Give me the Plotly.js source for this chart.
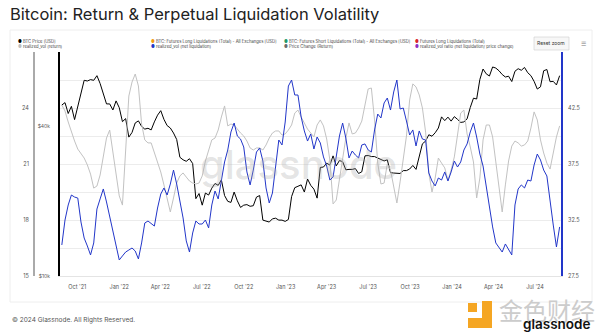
<!DOCTYPE html>
<html><head><meta charset="utf-8">
<script src="https://cdn.plot.ly/plotly-3.0.1.min.js"></script>
<style>html,body{margin:0;padding:0;background:#fff}#chart{width:600px;height:333px}</style>
</head><body><div id="chart"></div>
<script>
// Weekly observations, first one on 2021-08-28
const startDate = [2021, 7, 28];
// BTC price, USD thousands
const btcPrice = [
48.9, 50.0, 45.2, 48.3, 42.7, 48.2, 54.9, 61.5, 61.1, 61.9,
61.5, 64.2, 59.7, 54.7, 49.4, 49.4, 46.7, 50.8, 47.7, 41.9,
43.1, 36.3, 37.9, 41.4, 42.2, 40.1, 39.1, 39.4, 38.8, 41.8,
44.5, 46.4, 42.8, 40.4, 39.5, 37.7, 35.5, 30.1, 29.4, 29.0,
29.7, 28.4, 20.5, 21.5, 19.3, 21.6, 21.2, 22.6, 23.6, 23.2,
24.4, 21.1, 20.0, 19.8, 21.8, 20.1, 18.9, 19.3, 19.4, 19.1,
19.2, 20.8, 21.1, 16.8, 16.7, 16.5, 17.0, 17.1, 16.8, 16.8,
16.6, 16.9, 20.9, 22.7, 23.0, 23.3, 21.8, 24.6, 23.2, 22.4,
20.6, 27.4, 27.5, 28.5, 28.0, 30.5, 27.8, 29.2, 28.9, 26.8,
26.9, 26.9, 27.1, 25.9, 26.3, 30.5, 30.6, 30.3, 30.3, 29.9,
29.3, 29.1, 29.4, 26.1, 26.0, 25.9, 25.9, 26.6, 26.6, 27.0,
27.9, 26.9, 29.9, 34.1, 35.0, 37.1, 36.6, 37.8, 39.5, 43.8,
42.3, 43.7, 42.1, 43.9, 42.8, 41.6, 41.8, 43.0, 47.8, 52.1,
51.7, 62.0, 68.3, 65.3, 64.0, 69.6, 68.9, 67.2, 64.9, 63.4,
63.9, 60.8, 66.9, 68.5, 67.5, 69.3, 66.0, 64.2, 60.9, 56.7,
57.9, 67.2, 68.0, 60.7, 60.9, 58.9, 64.2
];
// realized_vol (return) - left outer axis
const realizedVolReturn = [
24.16, 23.84, 23.25, 22.71, 22.23, 21.80, 21.59, 21.32, 20.95, 20.46,
19.71, 19.82, 20.41, 21.32, 22.39, 22.82, 21.70, 20.41, 19.29, 18.80,
21.75, 24.64, 25.39, 25.82, 25.18, 23.14, 22.29, 22.13, 22.13, 21.59,
21.11, 20.57, 19.88, 19.13, 18.43, 19.18, 19.98, 20.36, 20.52, 20.30,
20.09, 19.98, 19.93, 19.98, 20.36, 21.16, 21.75, 22.29, 22.39, 22.82,
23.52, 24.11, 23.04, 23.14, 23.09, 22.87, 22.66, 22.50, 22.23, 21.86,
21.75, 21.86, 21.86, 21.75, 22.02, 22.39, 22.66, 22.77, 22.77, 22.55,
22.61, 22.82, 23.09, 23.73, 23.89, 23.52, 23.20, 22.87, 22.66, 22.45,
23.09, 23.36, 23.04, 22.34, 21.21, 18.86, 19.07, 20.14, 21.38, 22.39,
23.20, 22.61, 22.66, 22.93, 23.30, 24.11, 25.02, 25.07, 23.36, 21.05,
19.93, 19.98, 21.00, 20.68, 19.71, 18.91, 20.04, 21.16, 22.50, 24.43,
25.29, 25.13, 24.70, 24.00, 22.71, 20.52, 19.50, 20.25, 21.32, 21.05,
20.79, 20.14, 20.68, 21.38, 22.55, 23.73, 23.89, 22.61, 21.91, 21.11,
19.18, 20.25, 22.29, 23.09, 23.09, 22.45, 21.11, 19.77, 18.43, 19.88,
21.16, 21.96, 22.23, 22.13, 21.96, 22.02, 22.23, 22.93, 23.79, 23.36,
22.29, 21.59, 21.05, 20.73, 21.70, 22.45, 23.04
];
// realized_vol (net liquidation) - right axis
const realizedVolNetLiq = [
30.27, 32.50, 33.84, 34.73, 34.55, 34.46, 32.32, 30.89, 30.18, 29.38,
30.45, 33.48, 34.38, 35.27, 34.11, 32.77, 31.43, 30.27, 28.93, 29.29,
29.64, 29.82, 30.00, 29.73, 29.02, 30.45, 32.23, 32.41, 32.14, 31.96,
33.57, 34.82, 35.36, 34.73, 35.71, 36.96, 35.71, 34.11, 32.68, 30.63,
29.64, 31.34, 32.41, 32.14, 32.14, 32.50, 31.79, 33.84, 35.09, 34.38,
36.07, 37.68, 38.75, 40.36, 41.16, 40.00, 39.73, 39.02, 36.79, 35.63,
36.96, 38.57, 38.93, 37.77, 35.36, 34.02, 34.91, 37.14, 39.64, 39.20,
41.25, 44.46, 45.00, 43.66, 43.66, 41.70, 40.45, 39.55, 40.18, 38.84,
39.91, 39.38, 38.13, 37.32, 36.07, 36.34, 38.30, 40.00, 41.16, 39.82,
38.04, 38.66, 38.30, 38.04, 39.20, 39.29, 38.75, 38.57, 40.54, 41.96,
41.61, 42.95, 43.39, 42.32, 43.93, 45.00, 42.41, 42.50, 41.34, 40.09,
40.54, 39.11, 40.45, 39.73, 39.64, 36.70, 35.98, 35.54, 36.25, 36.07,
36.79, 35.98, 36.79, 37.77, 37.23, 37.68, 38.75, 39.29, 40.36, 41.16,
39.91, 38.39, 37.32, 35.45, 33.57, 31.88, 30.45, 30.00, 29.64, 30.36,
29.82, 29.38, 33.84, 35.27, 35.63, 35.36, 36.07, 35.98, 37.41, 38.39,
37.86, 36.96, 36.43, 34.02, 32.05, 30.09, 31.88
];
const priceTickVals = [10, 40];
const priceTickText = ['$10k', '$40k'];
const leftTickVals = [15, 18, 21, 24];
const rightTickVals = [27.5, 32.5, 37.5, 42.5];
const rightTickText = ['27.5', '32.5', '37.5', '42.5'];
const legendLabels = [
  ['BTC Price [USD]', '#000000'],
  ['BTC: Futures Long Liquidations (Total) - All Exchanges [USD]', '#f39c12'],
  ['BTC: Futures Short Liquidations (Total) - All Exchanges [USD]', '#1f9a6a'],
  ['Futures Long Liquidations (Total)', '#d9262b'],
  ['realized_vol (return)', '#bdbdbd'],
  ['realized_vol (net liquidation)', '#2236c9'],
  ['Price Change (Return)', '#6b6b6b'],
  ['realized_vol ratio (net liquidation/ price change)', '#8e2fc2']
];

const dates = btcPrice.map((_, i) => {
  const t = Date.UTC(startDate[0], startDate[1], startDate[2]) + i * 7 * 864e5;
  return new Date(t).toISOString().slice(0, 10);
});

const L = 20, R = 10, T = 52, B = 57, W = 600, H = 333;
const PW = W - L - R, PH = H - T - B;
const X = px => (px - L) / PW;
const Y = py => (H - B - py) / PH;
const FONT = 'Inter, Roboto, sans-serif';

const traces = [
  {x: dates, y: btcPrice, type: 'scatter', mode: 'lines', yaxis: 'y',
   line: {color: '#000000', width: 1}, name: 'BTC Price [USD]', hoverinfo: 'skip'},
  {x: dates, y: realizedVolReturn, type: 'scatter', mode: 'lines', yaxis: 'y2',
   line: {color: '#c2c2c2', width: 1}, name: 'realized_vol (return)', hoverinfo: 'skip'},
  {x: dates, y: realizedVolNetLiq, type: 'scatter', mode: 'lines', yaxis: 'y3',
   line: {color: '#2236c9', width: 1}, name: 'realized_vol (net liquidation)', hoverinfo: 'skip'}
];

const legendX = [16, 149, 282, 413];
const annotations = [];
legendLabels.forEach((e, i) => {
  const col = i % 4, row = Math.floor(i / 4);
  annotations.push({xref: 'paper', yref: 'paper', x: X(legendX[col]), y: Y(row ? 47 : 41),
    xanchor: 'left', yanchor: 'middle', showarrow: false,
    text: '<span style="color:' + e[1] + '">●</span> ' + e[0],
    font: {size: 4.2, color: '#444', family: FONT}});
});
annotations.push(
  {xref: 'paper', yref: 'paper', x: X(551), y: Y(43.5), showarrow: false, xanchor: 'center', yanchor: 'middle',
   text: 'Reset zoom', font: {size: 5, color: '#333', family: FONT}},
  {xref: 'paper', yref: 'paper', x: X(583), y: Y(43.5), showarrow: false, xanchor: 'center', yanchor: 'middle',
   text: '☰', font: {size: 6, color: '#777', family: 'DejaVu Sans'}},
  {xref: 'paper', yref: 'paper', x: X(298), y: Y(164), showarrow: false, xanchor: 'center', yanchor: 'middle',
   text: 'glassnode', font: {size: 40, color: 'rgba(165,165,165,0.30)', family: FONT, weight: 500}},
  {xref: 'paper', yref: 'paper', x: X(10), y: Y(320), showarrow: false, xanchor: 'left', yanchor: 'middle',
   text: '© 2024 Glassnode. All Rights Reserved.', font: {size: 6.5, color: '#555', family: FONT}},
  {xref: 'paper', yref: 'paper', x: X(547), y: Y(309), showarrow: false, xanchor: 'center', yanchor: 'middle',
   text: '金色财经', font: {size: 24, color: '#cccccc', family: 'Noto Sans CJK SC'}},
  {xref: 'paper', yref: 'paper', x: X(556), y: Y(324), showarrow: false, xanchor: 'center', yanchor: 'middle',
   text: 'glassnode', font: {size: 13.5, color: '#111', family: FONT, weight: 600}}
);

const shapes = [
  {type: 'rect', xref: 'paper', yref: 'paper', x0: X(10), x1: X(592), y0: Y(30), y1: Y(302),
   line: {color: '#eeeeee', width: 1}, layer: 'below'},
  {type: 'rect', xref: 'paper', yref: 'paper', x0: X(534), x1: X(569), y0: Y(37), y1: Y(50),
   fillcolor: '#f7f7f7', line: {color: '#cccccc', width: 0.6}},
  {type: 'rect', xref: 'paper', yref: 'paper', x0: X(468), x1: X(477), y0: Y(303), y1: Y(312),
   fillcolor: '#f5a623', line: {width: 0}},
  {type: 'rect', xref: 'paper', yref: 'paper', x0: X(482), x1: X(492), y0: Y(301), y1: Y(328),
   fillcolor: '#f5a623', line: {width: 0}},
  {type: 'rect', xref: 'paper', yref: 'paper', x0: X(468), x1: X(492), y0: Y(318), y1: Y(328),
   fillcolor: '#f5a623', line: {width: 0}}
];

const tickFont = {size: 5.5, color: '#555', family: FONT};
const layout = {
  width: W, height: H,
  margin: {l: L, r: R, t: T, b: B, pad: 0},
  paper_bgcolor: '#ffffff', plot_bgcolor: 'rgba(0,0,0,0)',
  showlegend: false,
  title: {text: 'Bitcoin: Return & Perpetual Liquidation Volatility', xref: 'container', yref: 'container',
    x: 10 / W, xanchor: 'left', y: 1 - 14 / H, yanchor: 'middle',
    font: {size: 16.5, color: '#222', family: FONT}},
  xaxis: {type: 'date', domain: [X(60), X(561)], range: ['2021-08-24', '2024-08-27'],
    tick0: '2021-10-01', dtick: 'M3', tickformat: "%b '%y", ticks: '', tickfont: tickFont,
    showgrid: false, zeroline: false, showline: true, linecolor: '#e4e4e4', linewidth: 1,
    ticklabelstandoff: 5},
  yaxis: {type: 'log', range: [1, 1.903], tickvals: priceTickVals, ticktext: priceTickText,
    showgrid: false, zeroline: false, showline: true, linecolor: '#000', linewidth: 2,
    ticks: '', tickfont: {size: 5, color: '#555', family: FONT}, ticklabelstandoff: 7},
  yaxis2: {overlaying: 'y', anchor: 'free', position: X(33), side: 'left', range: [15, 27],
    tickvals: leftTickVals, showgrid: false, zeroline: false, showline: true,
    linecolor: '#aaaaaa', linewidth: 1.5, ticks: '', tickfont: tickFont, ticklabelstandoff: 3},
  yaxis3: {overlaying: 'y', anchor: 'x', side: 'right', range: [27.5, 47.5],
    tickvals: rightTickVals, ticktext: rightTickText, showgrid: false, zeroline: false, showline: true,
    linecolor: '#2236c9', linewidth: 2, ticks: '', tickfont: tickFont, ticklabelstandoff: 4},
  yaxis4: {overlaying: 'y', anchor: 'x', side: 'left', range: [0, 8], dtick: 1,
    showgrid: true, gridcolor: '#ececec', gridwidth: 1, showticklabels: false,
    zeroline: false, showline: false, ticks: ''},
  annotations: annotations,
  shapes: shapes
};
traces.push({x: [dates[0]], y: [null], yaxis: 'y4', type: 'scatter', mode: 'lines', hoverinfo: 'skip'});
Plotly.newPlot('chart', traces, layout, {displayModeBar: false, staticPlot: true});
</script></body></html>
